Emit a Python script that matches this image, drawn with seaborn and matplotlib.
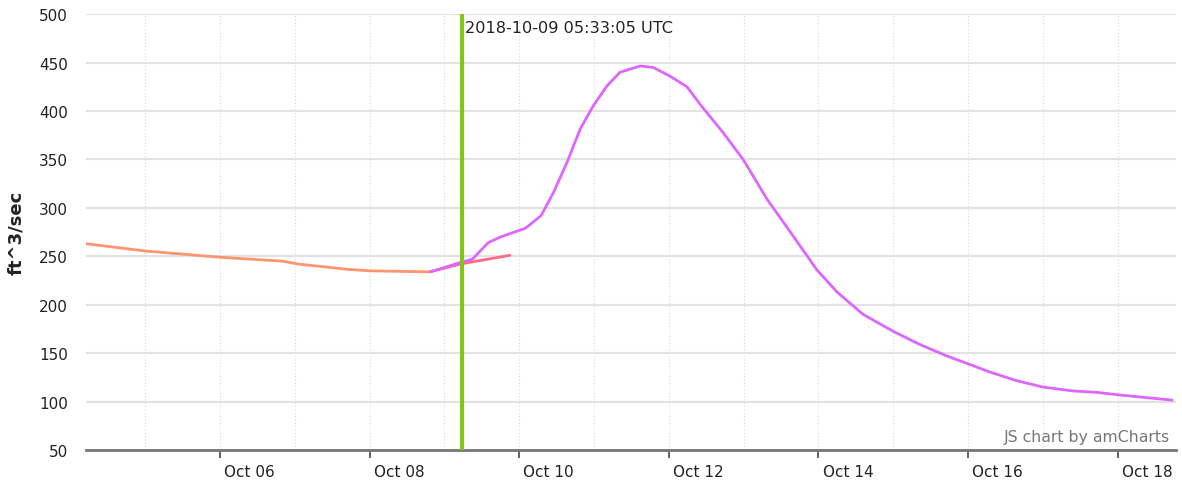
import pandas as pd
import matplotlib.pyplot as plt
import matplotlib.dates as mdates
import matplotlib.transforms as mtransforms
import seaborn as sns

# observed flow
obs_time = ["2018-10-04 05:00", "2018-10-05 00:00", "2018-10-06 00:00", "2018-10-06 20:00",
            "2018-10-07 01:00", "2018-10-07 17:00", "2018-10-08 00:00", "2018-10-08 18:00",
            "2018-10-08 19:30"]
obs_flow = [263, 255.5, 249, 245, 242, 236.5, 235, 234, 234]

# short extension after the observed record
ext_time = ["2018-10-08 19:30", "2018-10-09 05:00", "2018-10-09 21:00"]
ext_flow = [234, 242, 251]

# forecast flow
fc_time = ["2018-10-08 19:30", "2018-10-09 05:00", "2018-10-09 09:00", "2018-10-09 14:00",
           "2018-10-09 18:00", "2018-10-10 02:00", "2018-10-10 07:00", "2018-10-10 11:00",
           "2018-10-10 15:20", "2018-10-10 19:30", "2018-10-10 23:40", "2018-10-11 04:10",
           "2018-10-11 08:20", "2018-10-11 14:45", "2018-10-11 19:00", "2018-10-12 00:20",
           "2018-10-12 05:50", "2018-10-12 10:00", "2018-10-12 17:20", "2018-10-12 23:50",
           "2018-10-13 07:30", "2018-10-13 15:00", "2018-10-13 23:30", "2018-10-14 06:00",
           "2018-10-14 14:20", "2018-10-15 00:00", "2018-10-15 08:30", "2018-10-15 17:15",
           "2018-10-16 00:00", "2018-10-16 07:00", "2018-10-16 15:40", "2018-10-17 00:00",
           "2018-10-17 09:40", "2018-10-17 17:20", "2018-10-18 00:00", "2018-10-18 09:30",
           "2018-10-18 17:30"]
fc_flow = [234, 243.5, 247, 264, 270, 279, 292, 316, 347, 381, 405, 426, 440, 446.5, 445,
           436, 425, 407, 378, 350, 309, 275, 236, 213, 190, 172.5, 159, 147, 139, 130.5,
           121.5, 115, 111, 109.5, 107, 104, 101.5]

now_time = "2018-10-09 05:33:05"
now_label = "2018-10-09 05:33:05 UTC"

sns.set_theme(style="white")
plt.rcParams['font.family'] = ['DejaVu Sans']

fig = plt.figure(figsize=(11.82, 4.89), dpi=100)
ax = fig.add_axes([0.0728, 0.0777, 0.9222, 0.8913])

obs = pd.DataFrame({"t": pd.to_datetime(obs_time), "v": obs_flow})
ext = pd.DataFrame({"t": pd.to_datetime(ext_time), "v": ext_flow})
fc = pd.DataFrame({"t": pd.to_datetime(fc_time), "v": fc_flow})

sns.lineplot(data=obs, x="t", y="v", ax=ax, color="#FF9470", lw=2)
sns.lineplot(data=ext, x="t", y="v", ax=ax, color="#FF6B86", lw=2)
sns.lineplot(data=fc, x="t", y="v", ax=ax, color="#DD66FF", lw=2, zorder=3)

now = pd.Timestamp(now_time)
ax.axvline(now, color="#84C51A", lw=3, zorder=4)
ax.text(now + pd.Timedelta(hours=1), 486.5, now_label, fontsize=11.6, color="#222222",
        va="center", ha="left")

ax.set_xlim(pd.Timestamp("2018-10-04 05:00"), pd.Timestamp("2018-10-18 18:45"))
ax.set_ylim(50, 500)
ax.set_yticks(range(50, 501, 50))

ax.xaxis.set_major_locator(mdates.DayLocator(bymonthday=[6, 8, 10, 12, 14, 16, 18]))
ax.xaxis.set_major_formatter(mdates.DateFormatter("%b %d"))
ax.xaxis.set_minor_locator(mdates.DayLocator())

ax.grid(axis="y", which="major", color="#e2e2e2", lw=1.5)
ax.grid(axis="x", which="both", color="#d8d8d8", lw=0.8, linestyle=(0, (1, 2)))
ax.set_axisbelow(True)

for s in ["top", "right", "left"]:
    ax.spines[s].set_visible(False)
ax.spines["bottom"].set_color("#777777")
ax.spines["bottom"].set_linewidth(2)

ax.tick_params(axis="x", which="major", bottom=True, direction="out", length=6, width=1.3,
               color="#555555", labelsize=11, labelcolor="#222222", pad=4)
ax.tick_params(axis="x", which="minor", bottom=False, length=0)
ax.tick_params(axis="y", left=False, length=0, labelsize=11, labelcolor="#222222", pad=13)

# amCharts puts date labels just right of the tick
offset = mtransforms.ScaledTranslation(3 / 72, 0, fig.dpi_scale_trans)
for lab in ax.get_xticklabels():
    lab.set_horizontalalignment("left")
    lab.set_transform(lab.get_transform() + offset)

ax.set_xlabel("")
ax.set_ylabel("ft^3/sec", fontsize=13, fontweight="bold", color="#222222")
ax.yaxis.set_label_coords(-0.056, 0.5)

ax.text(0.9945, 0.032, "JS chart by amCharts", transform=ax.transAxes, ha="right",
        va="center", fontsize=11.3, color="#777777")

fig.savefig("out.png", dpi=100)
